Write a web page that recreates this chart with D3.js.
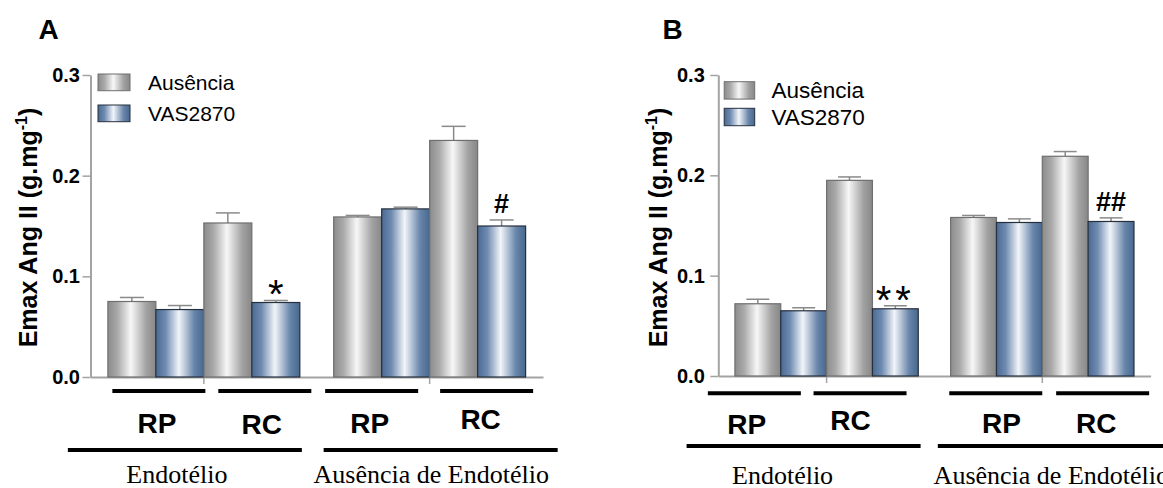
<!DOCTYPE html>
<html lang="pt">
<head>
<meta charset="UTF-8">
<title>Emax Ang II</title>
<style>
  body { margin: 0; background: #fff; }
  svg { display: block; }
</style>
</head>
<body>
<svg id="chart" width="1163" height="488"></svg>
<script src="https://d3js.org/d3.v7.min.js"></script>
<script>
// ---- data ----
const series = ["Ausência", "VAS2870"];
const arteries = ["RP", "RC"];
const conditions = ["Endotélio", "Ausência de Endotélio"];
const yTicks = [0, 0.1, 0.2, 0.3];

// order: condition -> artery -> series
const meanA = [0.075, 0.067, 0.153, 0.074, 0.159, 0.167, 0.235, 0.150];
const semA  = [0.004, 0.004, 0.010, 0.002, 0.0015, 0.0017, 0.014, 0.006];
const markA = ["", "", "", "*", "", "", "", "#"];

const meanB = [0.072, 0.065, 0.195, 0.067, 0.158, 0.153, 0.219, 0.154];
const semB  = [0.0045, 0.003, 0.0034, 0.003, 0.002, 0.0036, 0.0047, 0.0036];
const markB = ["", "", "", "**", "", "", "", "##"];

// ---- layout ----
const SANS = "'Liberation Sans', Arial, sans-serif";
const SERIF = "'Liberation Serif', 'Times New Roman', serif";
const axisColor = "#a3a3a3";

const panels = [
  {
    name: "A", mean: meanA, sem: semA, mark: markA,
    xRange: [90.5, 543], yRange: [377, 75], tickPad: 2.5, tickFont: 20,
    title: [38.5, 39.3],
    yLabel: [36.7, 227.5],
    legend: { x: 98, y: [74, 105], w: 32, h: 16.7, tx: 148, font: 21 },
    line1: { y: 391, off: [3, 13, -10, 9], half: 46.5 },
    artLab: { off: [1, 10, -12, 3], y: [432.7, 434, 432.7, 429] },
    line2: { y: 450, off: [-19, 11], half: 117 },
    condLab: { off: [-27, 1.6], y: 483 }
  },
  {
    name: "B", mean: meanB, sem: semB, mark: markB,
    xRange: [718.3, 1150.6], yRange: [376, 75], tickPad: 5.5, tickFont: 20,
    title: [662.5, 39.3],
    yLabel: [666.7, 227.5],
    legend: { x: 724.2, y: [81.7, 108.3], w: 30.5, h: 17.4, tx: 771.4, font: 22.5 },
    line1: { y: 393.3, off: [-26.4, -12.4, -0.7, 14.5], half: 46.5 },
    artLab: { off: [-34, -22, 5, 8], y: [434.3, 430, 433.3, 433.3] },
    line2: { y: 446, off: [-23, 12.5], half: 117 },
    condLab: { off: [-44, 9], y: 483.5 }
  }
];

const svg = d3.select("#chart");
svg.append("rect").attr("width", 1163).attr("height", 488).attr("fill", "#fff");

// gradients
const defs = svg.append("defs");
const gradStops = {
  "Ausência": ["#8c8c8c", "#a9a9a9", "#f7f7f7", "#a2a2a2", "#878787"],
  "VAS2870":  ["#4a6a94", "#6e8ab0", "#f2f5f9", "#6885aa", "#48688f"]
};
const stopPos = [0, 0.2, 0.48, 0.8, 1];
series.forEach((s, i) => {
  const g = defs.append("linearGradient").attr("id", "grad" + i)
    .attr("x1", 0).attr("x2", 1).attr("y1", 0).attr("y2", 0);
  gradStops[s].forEach((c, k) => g.append("stop").attr("offset", stopPos[k]).attr("stop-color", c));
});
const fillOf = d3.scaleOrdinal().domain(series).range(["url(#grad0)", "url(#grad1)"]);
const strokeOf = d3.scaleOrdinal().domain(series).range(["#6f6f6f", "#26303d"]);

panels.forEach(p => {
  const rows = p.mean.map((v, i) => ({
    condition: conditions[Math.floor(i / 4)],
    artery: arteries[Math.floor(i / 2) % 2],
    serie: series[i % 2],
    value: v, sem: p.sem[i], mark: p.mark[i]
  }));

  const xCond = d3.scaleBand().domain(conditions).range(p.xRange)
    .paddingInner(0.15).paddingOuter(0.077);
  const xArt = d3.scaleBand().domain(arteries).range([0, xCond.bandwidth()]);
  const xSer = d3.scaleBand().domain(series).range([0, xArt.bandwidth()]);
  const y = d3.scaleLinear().domain([0, 0.3]).range(p.yRange);
  const barX = d => xCond(d.condition) + xArt(d.artery) + xSer(d.serie);

  const g = svg.append("g");

  // y axis
  g.append("g").attr("transform", `translate(${p.xRange[0]},0)`)
    .call(d3.axisLeft(y).tickValues(yTicks).tickFormat(d3.format(".1f"))
      .tickSize(8).tickSizeOuter(0).tickPadding(p.tickPad))
    .call(a => a.select(".domain").attr("stroke", axisColor).attr("stroke-width", 2))
    .call(a => a.selectAll(".tick line").attr("stroke", axisColor).attr("stroke-width", 1.5))
    .call(a => a.selectAll(".tick text").attr("fill", "#000").attr("font-family", SANS)
      .attr("font-weight", "bold").attr("font-size", p.tickFont));

  // x axis
  g.append("g").attr("transform", `translate(0,${y(0)})`)
    .call(d3.axisBottom(xCond).tickSize(7).tickSizeOuter(0).tickFormat(""))
    .call(a => a.select(".domain").attr("stroke", axisColor).attr("stroke-width", 2))
    .call(a => a.selectAll(".tick line").attr("stroke", axisColor).attr("stroke-width", 1.5));

  // error bars (upper only)
  const eb = g.selectAll(".err").data(rows).join("g").attr("class", "err");
  eb.append("line")
    .attr("x1", d => barX(d) + xSer.bandwidth() / 2)
    .attr("x2", d => barX(d) + xSer.bandwidth() / 2)
    .attr("y1", d => y(d.value)).attr("y2", d => y(d.value + d.sem))
    .attr("stroke", "#8a8a8a").attr("stroke-width", 1.5);
  eb.append("line")
    .attr("x1", d => barX(d) + xSer.bandwidth() / 4)
    .attr("x2", d => barX(d) + xSer.bandwidth() * 3 / 4)
    .attr("y1", d => y(d.value + d.sem)).attr("y2", d => y(d.value + d.sem))
    .attr("stroke", "#8a8a8a").attr("stroke-width", 1.5);

  // bars
  g.selectAll(".bar").data(rows).join("rect").attr("class", "bar")
    .attr("x", barX).attr("width", xSer.bandwidth())
    .attr("y", d => y(d.value)).attr("height", d => y(0) - y(d.value))
    .attr("fill", d => fillOf(d.serie)).attr("stroke", d => strokeOf(d.serie))
    .attr("stroke-width", 1.2);

  // significance marks
  const isStar = d => d.mark.includes("*");
  g.selectAll(".mark").data(rows.filter(d => d.mark)).join("text").attr("class", "mark")
    .attr("x", d => barX(d) + xSer.bandwidth() / 2)
    .attr("y", d => y(d.value + d.sem) - (isStar(d) ? -8 : 7))
    .attr("text-anchor", "middle").attr("font-family", SANS)
    .attr("font-size", d => isStar(d) ? 40 : 27)
    .attr("font-weight", d => isStar(d) ? "normal" : "bold")
    .attr("letter-spacing", d => d.mark.length > 1 ? (isStar(d) ? 4 : 0) : 0)
    .text(d => d.mark);

  // artery underlines and labels
  const artCells = [];
  conditions.forEach(c => arteries.forEach(a => artCells.push({ c, a })));
  const artCenter = d => xCond(d.c) + xArt(d.a) + xArt.bandwidth() / 2;
  g.selectAll(".l1").data(artCells).join("line").attr("class", "l1")
    .attr("x1", (d, i) => artCenter(d) + p.line1.off[i] - p.line1.half)
    .attr("x2", (d, i) => artCenter(d) + p.line1.off[i] + p.line1.half)
    .attr("y1", p.line1.y).attr("y2", p.line1.y)
    .attr("stroke", "#000").attr("stroke-width", 4);
  g.selectAll(".artlab").data(artCells).join("text").attr("class", "artlab")
    .attr("x", (d, i) => artCenter(d) + p.artLab.off[i])
    .attr("y", (d, i) => p.artLab.y[i])
    .attr("text-anchor", "middle").attr("font-family", SANS)
    .attr("font-weight", "bold").attr("font-size", 28)
    .text(d => d.a);

  // condition underlines and labels
  const condCenter = c => xCond(c) + xCond.bandwidth() / 2;
  g.selectAll(".l2").data(conditions).join("line").attr("class", "l2")
    .attr("x1", (c, i) => condCenter(c) + p.line2.off[i] - p.line2.half)
    .attr("x2", (c, i) => condCenter(c) + p.line2.off[i] + p.line2.half)
    .attr("y1", p.line2.y).attr("y2", p.line2.y)
    .attr("stroke", "#000").attr("stroke-width", 4);
  g.selectAll(".condlab").data(conditions).join("text").attr("class", "condlab")
    .attr("x", (c, i) => condCenter(c) + p.condLab.off[i])
    .attr("y", p.condLab.y)
    .attr("text-anchor", "middle").attr("font-family", SERIF).attr("font-size", 26)
    .text(c => c);

  // legend
  const lg = g.selectAll(".leg").data(series).join("g").attr("class", "leg");
  lg.append("rect")
    .attr("x", p.legend.x).attr("y", (s, i) => p.legend.y[i])
    .attr("width", p.legend.w).attr("height", p.legend.h)
    .attr("fill", s => fillOf(s)).attr("stroke", s => strokeOf(s)).attr("stroke-width", 1);
  lg.append("text")
    .attr("x", p.legend.tx).attr("y", (s, i) => p.legend.y[i] + p.legend.h - 1)
    .attr("font-family", SANS).attr("font-size", p.legend.font)
    .text(s => s);

  // y label
  const yl = g.append("text")
    .attr("transform", `translate(${p.yLabel[0]},${p.yLabel[1]}) rotate(-90)`)
    .attr("text-anchor", "middle").attr("font-family", SANS)
    .attr("font-weight", "bold").attr("font-size", 25);
  yl.append("tspan").text("Emax Ang II (g.mg");
  yl.append("tspan").attr("font-size", 16).attr("dy", -10).text("-1");
  yl.append("tspan").attr("dy", 10).text(")");

  // panel letter
  g.append("text").attr("x", p.title[0]).attr("y", p.title[1])
    .attr("font-family", SANS).attr("font-weight", "bold").attr("font-size", 28)
    .text(p.name);
});
</script>
</body>
</html>
